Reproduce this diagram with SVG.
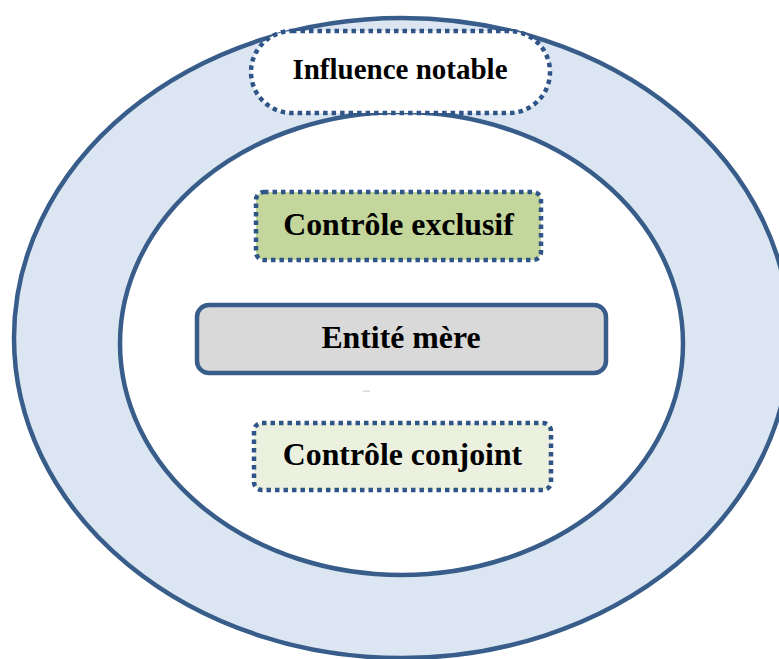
<svg xmlns="http://www.w3.org/2000/svg" width="779" height="659" viewBox="0 0 779 659">
  <style>
    .ring { stroke: #385d8a; stroke-width: 4.5; }
    .dotted { stroke: #2f5588; stroke-width: 4.5; stroke-dasharray: 4.5 4; }
    .lbl { font-family: "Liberation Serif", "Times New Roman", serif; font-weight: bold; fill: #000; text-anchor: middle; }
  </style>
  <rect x="0" y="0" width="779" height="659" fill="#ffffff"/>
  <g id="outer-ring">
    <ellipse cx="402" cy="338" rx="388" ry="320" fill="#dce6f2" class="ring"/>
  </g>
  <g id="inner-ring">
    <ellipse cx="401.5" cy="343.5" rx="281.5" ry="231.5" fill="#ffffff" class="ring"/>
  </g>
  <g id="connectors"></g>
  <g id="influence-notable">
    <rect x="251" y="31" width="299" height="82" rx="41" ry="41" fill="#ffffff" class="dotted"/>
    <text x="400" y="79" class="lbl" font-size="29">Influence notable</text>
  </g>
  <g id="controle-exclusif">
    <rect x="256" y="192" width="285" height="68" rx="8" ry="8" fill="#c3d69b" class="dotted"/>
    <text x="398.5" y="235" class="lbl" font-size="31.8">Contrôle exclusif</text>
  </g>
  <g id="entite-mere">
    <rect x="197" y="305" width="409" height="68" rx="12" ry="12" fill="#d9d9d9" stroke="#385d8a" stroke-width="4.5"/>
    <text x="401" y="348" class="lbl" font-size="31.8">Entité mère</text>
  </g>
  <rect x="363" y="390.5" width="7" height="1.5" fill="#d9d9d9"/>
  <g id="controle-conjoint">
    <rect x="254" y="423" width="297" height="67" rx="8" ry="8" fill="#ebf1de" class="dotted"/>
    <text x="402.5" y="465" class="lbl" font-size="31.8">Contrôle conjoint</text>
  </g>
</svg>
